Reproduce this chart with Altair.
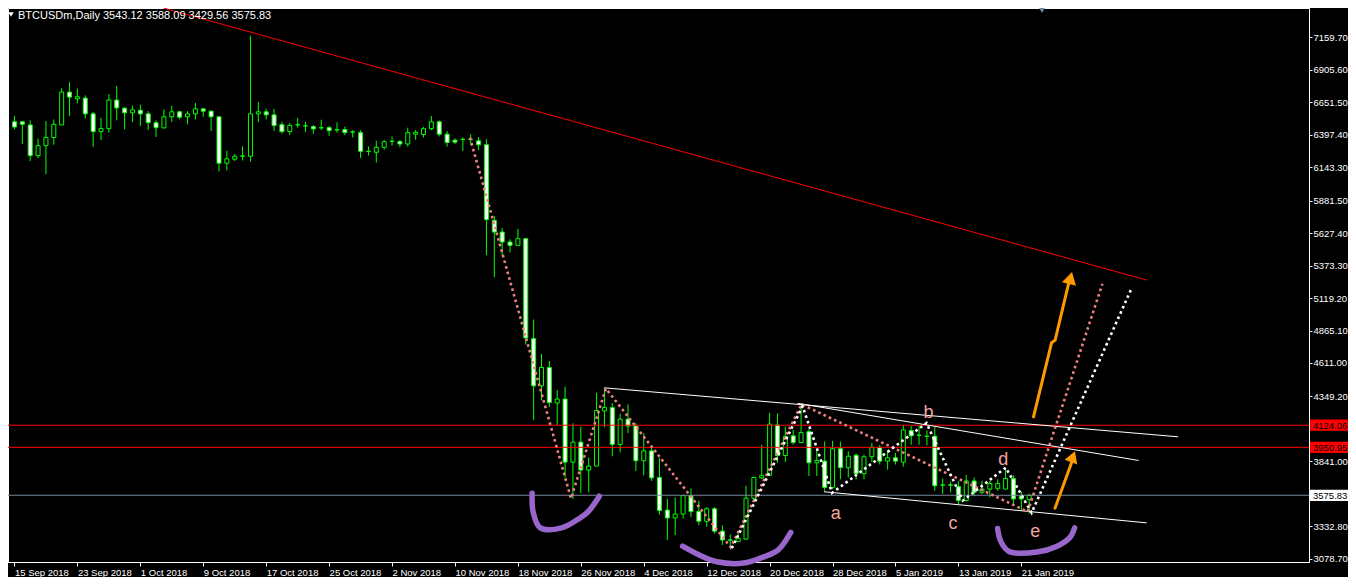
import altair as alt
import pandas as pd

# ---------------- data ----------------
date_labels = ["15 Sep 2018", "23 Sep 2018", "1 Oct 2018", "9 Oct 2018", "17 Oct 2018",
               "25 Oct 2018", "2 Nov 2018", "10 Nov 2018", "18 Nov 2018", "26 Nov 2018",
               "4 Dec 2018", "12 Dec 2018", "20 Dec 2018", "28 Dec 2018", "5 Jan 2019",
               "13 Jan 2019", "21 Jan 2019"]
price_ticks = [7159.70, 6905.60, 6651.50, 6397.40, 6143.30, 5881.50, 5627.40, 5373.30,
               5119.20, 4865.10, 4611.00, 4349.20, 4095.10, 3841.00, 3332.80, 3078.70]
hidden_tick = 4095.10   # lies under the 4124.06 price box

opens = [6499, 6499, 6474, 6234, 6312, 6376, 6474, 6731, 6679, 6684,
         6561, 6422, 6445, 6669, 6605, 6569, 6589, 6561, 6492, 6451,
         6538, 6577, 6538, 6561, 6600, 6582, 6538, 6175, 6206, 6229,
         6229, 6561, 6577, 6553, 6476, 6422, 6474, 6466, 6461, 6451,
         6453, 6435, 6438, 6420, 6414, 6268, 6260, 6299, 6345, 6345,
         6325, 6402, 6399, 6445, 6499, 6402, 6355, 6360, 6362, 6350,
         6319, 5728, 5636, 5558, 5532, 5584, 4802, 4432, 4576, 4298,
         4329, 3835, 3992, 3773, 3804, 4236, 4262, 3974, 4172, 4118,
         3846, 3923, 3715, 3460, 3398, 3429, 3573, 3449, 3372, 3470,
         3295, 3226, 3213, 3233, 3553, 3712, 3732, 4126, 3887, 4041,
         3989, 4074, 3830, 3843, 3637, 3940, 3792, 3889, 3745, 3877,
         3951, 3843, 3869, 3835, 4082, 4047, 4038, 4038, 3655, 3657,
         3645, 3534, 3688, 3599, 3624, 3630, 3624, 3707, 3568, 3543.12]
highs = [6543, 6505, 6510, 6368, 6505, 6517, 6762, 6808, 6758, 6705,
         6577, 6530, 6715, 6780, 6613, 6625, 6633, 6582, 6510, 6595,
         6625, 6587, 6582, 6646, 6607, 6587, 6540, 6273, 6247, 6306,
         7173, 6654, 6602, 6600, 6499, 6489, 6530, 6499, 6474, 6515,
         6466, 6494, 6461, 6433, 6433, 6306, 6350, 6358, 6384, 6355,
         6453, 6433, 6458, 6543, 6510, 6427, 6370, 6378, 6402, 6378,
         6363, 5761, 5669, 5579, 5661, 5590, 4951, 4681, 4627, 4401,
         4427, 4139, 4113, 3871, 4378, 4417, 4298, 4216, 4288, 4139,
         4062, 3958, 3869, 3547, 3560, 3578, 3630, 3534, 3483, 3483,
         3341, 3269, 3277, 3650, 3722, 3971, 4221, 4216, 4113, 4087,
         4288, 4093, 3933, 3997, 4002, 3995, 3920, 3902, 3894, 3985,
         3969, 3925, 3907, 4126, 4118, 4118, 4082, 4113, 3707, 3681,
         3688, 3735, 3715, 3688, 3688, 3701, 3792, 3732, 3604, 3588.09]
lows = [6440, 6325, 6191, 6214, 6088, 6319, 6474, 6543, 6643, 6525,
        6304, 6355, 6414, 6510, 6440, 6497, 6466, 6433, 6381, 6448,
        6497, 6517, 6479, 6517, 6538, 6427, 6111, 6119, 6191, 6196,
        6188, 6497, 6517, 6427, 6407, 6396, 6453, 6420, 6404, 6433,
        6389, 6414, 6394, 6376, 6216, 6234, 6180, 6281, 6312, 6299,
        6304, 6358, 6376, 6433, 6384, 6304, 6325, 6271, 6317, 6278,
        5455, 5283, 5453, 5476, 5532, 4756, 4164, 4319, 4267, 4126,
        3715, 3547, 3594, 3599, 3804, 4108, 3881, 3912, 4062, 3766,
        3732, 3688, 3424, 3226, 3264, 3393, 3406, 3341, 3329, 3277,
        3187, 3175, 3213, 3226, 3534, 3701, 3727, 3830, 3835, 3971,
        3985, 3727, 3727, 3611, 3624, 3701, 3715, 3701, 3701, 3835,
        3817, 3776, 3817, 3800, 3971, 3971, 3966, 3611, 3586, 3599,
        3508, 3526, 3568, 3586, 3560, 3611, 3624, 3495, 3457, 3429.56]
closes = [6458, 6479, 6234, 6312, 6376, 6479, 6731, 6692, 6695, 6561,
          6422, 6445, 6669, 6607, 6569, 6592, 6561, 6492, 6453, 6538,
          6577, 6535, 6561, 6600, 6582, 6538, 6175, 6209, 6229, 6232,
          6561, 6577, 6553, 6469, 6422, 6471, 6476, 6468, 6443, 6453,
          6430, 6437, 6414, 6419, 6268, 6266, 6299, 6343, 6347, 6325,
          6414, 6417, 6445, 6499, 6402, 6337, 6340, 6362, 6360, 6319,
          5733, 5636, 5558, 5532, 5584, 4807, 4432, 4576, 4301, 4329,
          3835, 3992, 3773, 3804, 4239, 4262, 3974, 4172, 4118, 3846,
          3923, 3712, 3457, 3398, 3429, 3573, 3449, 3372, 3470, 3295,
          3226, 3224, 3239, 3553, 3715, 3732, 4133, 3887, 4036, 3989,
          4066, 3830, 3848, 3637, 3940, 3792, 3881, 3745, 3877, 3951,
          3843, 3869, 3843, 4087, 4041, 4045, 4036, 3650, 3657, 3655,
          3534, 3688, 3599, 3624, 3668, 3668, 3707, 3547, 3547, 3575.83]

# horizontal levels
red_levels = [4124.06, 3950.95]
bid_level = 3575.83

# drawn objects (day index, price)
trend_day = [18.94, 143.94]
trend_price = [7389.4, 5260.0]
chan1_day, chan1_price = [74.98, 147.94], [4416.8, 4033.3]
chan2_day, chan2_price = [99.56, 142.9], [4295.7, 3848.2]
chan3_day, chan3_price = [102.9, 143.94], [3603.6, 3359.8]
pink_day = [57.9, 70.75, 75.19, 91.06, 100.06, 128.81, 138.31]
pink_price = [6375, 3551, 4411, 3169, 4288, 3447, 5231]
white_day = [91.19, 100.19, 103.94, 115.94, 120.56, 126.03, 129.31, 141.94]
white_price = [3162, 4272, 3594, 4141, 3534, 3792, 3439, 5185]
purple1_day = [65.81, 65.94, 66.85, 69.56, 71.65, 72.9, 74.35]
purple1_price = [3591, 3445, 3321, 3321, 3388, 3445, 3568]
purple2_day = [84.94, 87.06, 89.31, 92.69, 95.19, 97.06, 98.69]
purple2_price = [3177, 3108, 3055, 3045, 3092, 3146, 3285]
purple3_day = [124.98, 125.4, 126.44, 129.98, 132.48, 134.15, 134.78]
purple3_price = [3316, 3213, 3136, 3131, 3175, 3244, 3321]
arrow1_day = [129.55, 131.85, 132.3, 134.1]
arrow1_price = [4190, 4770, 4790, 5255]
arrow1_head = (134.25, 5276)
arrow2_day = [132.28, 134.5]
arrow2_price = [3475, 3850]
arrow2_head = (134.56, 3878)
letters = ["a", "b", "c", "d", "e"]
letter_day = [104.4, 116.2, 119.3, 125.7, 129.76]
letter_price = [3432, 4216, 3354, 3848, 3285]

# ---------------- chart ----------------
W, H = 1301, 554
xs = alt.Scale(domain=[-0.1875, 163.9375], nice=False, zero=False)
ys = alt.Scale(domain=[3053.5, 7389.4], nice=False, zero=False)
FONT = "Liberation Sans"

n = len(opens)
candles = pd.DataFrame({
    "day": list(range(n)), "open": opens, "high": highs, "low": lows, "close": closes,
    "dir": ["up" if c > o else "down" for o, c in zip(opens, closes)],
})

label_js = "[" + ",".join("'%s'" % s for s in date_labels) + "][round(datum.value/8)]"
ylabel_js = "abs(datum.value - %s) < 0.01 ? '' : format(datum.value, '.2f')" % hidden_tick

x_axis = alt.Axis(orient="bottom", values=[8 * i for i in range(len(date_labels))],
                  labelExpr=label_js, title=None, grid=False, labelAlign="left",
                  labelBaseline="top", labelFlush=False, labelOverlap=False,
                  tickSize=4, labelPadding=1, labelFont=FONT, labelFontSize=9.5,
                  labelColor="#FFFFFF", tickColor="#FFFFFF", domainColor="#FFFFFF")
y_axis = alt.Axis(orient="right", values=price_ticks, labelExpr=ylabel_js, title=None,
                  grid=False, tickSize=3, labelPadding=1, labelFont=FONT, labelFontSize=9.5,
                  labelColor="#FFFFFF", tickColor="#FFFFFF", domainColor="#FFFFFF",
                  labelOverlap=False, labelFlush=False)

# axis carrier layer (wicks)
wicks = alt.Chart(candles).mark_rule(color="#00FF00", strokeWidth=1).encode(
    x=alt.X("day:Q", scale=xs, axis=x_axis),
    y=alt.Y("low:Q", scale=ys, axis=y_axis),
    y2="high:Q",
)
bodies = alt.Chart(candles).mark_bar(width=4, stroke="#00FF00", strokeWidth=1).encode(
    x=alt.X("day:Q", scale=xs, axis=None),
    y=alt.Y("open:Q", scale=ys, axis=None),
    y2="close:Q",
    fill=alt.Fill("dir:N", scale=alt.Scale(domain=["up", "down"], range=["#000000", "#FFFFFF"]),
                  legend=None),
)


def line_layer(days, prices, color, width, dash=None, interp="linear", cap="butt"):
    df = pd.DataFrame({"day": days, "price": prices, "i": list(range(len(days)))})
    kw = dict(color=color, strokeWidth=width, interpolate=interp, strokeCap=cap)
    if dash is not None:
        kw["strokeDash"] = dash
    return alt.Chart(df).mark_line(**kw).encode(
        x=alt.X("day:Q", scale=xs, axis=None),
        y=alt.Y("price:Q", scale=ys, axis=None),
        order="i:Q",
    )


red_rules = alt.Chart(pd.DataFrame({"price": red_levels})).mark_rule(
    color="#FF0000", strokeWidth=1).encode(y=alt.Y("price:Q", scale=ys, axis=None))
bid_rule = alt.Chart(pd.DataFrame({"price": [bid_level]})).mark_rule(
    color="#778899", strokeWidth=1).encode(y=alt.Y("price:Q", scale=ys, axis=None))

trend = line_layer(trend_day, trend_price, "#FF0000", 1)
ch1 = line_layer(chan1_day, chan1_price, "#FFFFFF", 1)
ch2 = line_layer(chan2_day, chan2_price, "#FFFFFF", 1)
ch3 = line_layer(chan3_day, chan3_price, "#FFFFFF", 1)
pink = line_layer(pink_day, pink_price, "#F08080", 2.6, dash=[2.6, 3.2])
white = line_layer(white_day, white_price, "#FFFFFF", 2.6, dash=[2.6, 3.2])
pur1 = line_layer(purple1_day, purple1_price, "#9966CC", 5.5, interp="catmull-rom", cap="round")
pur2 = line_layer(purple2_day, purple2_price, "#9966CC", 5.5, interp="catmull-rom", cap="round")
pur3 = line_layer(purple3_day, purple3_price, "#9966CC", 5.5, interp="catmull-rom", cap="round")
arr1 = line_layer(arrow1_day, arrow1_price, "#FF9900", 3, cap="round")
arr2 = line_layer(arrow2_day, arrow2_price, "#FF9900", 3, cap="round")


def head(pos, angle, size):
    df = pd.DataFrame({"day": [pos[0]], "price": [pos[1]]})
    return alt.Chart(df).mark_point(shape="triangle-up", filled=True, color="#FF9900",
                                    opacity=1, size=size, angle=angle).encode(
        x=alt.X("day:Q", scale=xs, axis=None),
        y=alt.Y("price:Q", scale=ys, axis=None),
    )


head1 = head(arrow1_head, 14, 210)
head2 = head(arrow2_head, 20, 180)

letter_df = pd.DataFrame({"t": letters, "day": letter_day, "price": letter_price})
letter_text = alt.Chart(letter_df).mark_text(font=FONT, fontSize=18, color="#F4A4A0",
                                             baseline="middle", align="center").encode(
    x=alt.X("day:Q", scale=xs, axis=None),
    y=alt.Y("price:Q", scale=ys, axis=None),
    text="t:N",
)

# price boxes on the right scale
box_df = pd.DataFrame({
    "price": red_levels + [bid_level],
    "fillc": ["#FF0000", "#FF0000", "#FFFFFF"],
    "label": ["%.2f" % v for v in red_levels + [bid_level]],
})
box_df["top"] = box_df["price"] + 44
box_df["bot"] = box_df["price"] - 44
boxes = alt.Chart(box_df).mark_rect().encode(
    x=alt.value(W + 1), x2=alt.value(W + 40),
    y=alt.Y("top:Q", scale=ys, axis=None), y2="bot:Q",
    fill=alt.Fill("fillc:N", scale=None),
)
box_text = alt.Chart(box_df).mark_text(font=FONT, fontSize=9.5, color="#000000",
                                       align="left", baseline="middle", dy=1).encode(
    x=alt.value(W + 4),
    y=alt.Y("price:Q", scale=ys, axis=None),
    text="label:N",
)

header = "BTCUSDm,Daily  %.2f %.2f %.2f %.2f" % (opens[-1], highs[-1], lows[-1], closes[-1])
head_text = alt.Chart(pd.DataFrame({"t": [header]})).mark_text(
    font=FONT, fontSize=11, color="#FFFFFF", align="left", baseline="middle").encode(
    x=alt.value(10), y=alt.value(7.5), text="t:N")
head_tri = alt.Chart(pd.DataFrame({"t": [1]})).mark_point(
    shape="triangle-down", filled=True, color="#FFFFFF", opacity=1, size=30).encode(
    x=alt.value(3), y=alt.value(6.5))
shift_tri = alt.Chart(pd.DataFrame({"t": [1]})).mark_point(
    shape="triangle-down", filled=True, color="#778899", opacity=1, size=45).encode(
    x=alt.value(1034), y=alt.value(2))

chart = alt.layer(
    wicks, bodies, bid_rule, red_rules, trend, ch1, ch2, ch3, pink, white,
    pur1, pur2, pur3, arr1, arr2, head1, head2, letter_text,
    boxes, box_text, head_text, head_tri, shift_tri,
).resolve_axis(
    x="independent", y="independent"
).properties(
    width=W, height=H,
    padding={"left": 0, "top": 0, "right": 39, "bottom": 15},
    autosize=alt.AutoSizeParams(type="none"),
).configure(
    background="#000000",
).configure_view(
    stroke="#FFFFFF", strokeWidth=1,
)

chart.save("out.html", embed_options={"renderer": "svg", "actions": False})
